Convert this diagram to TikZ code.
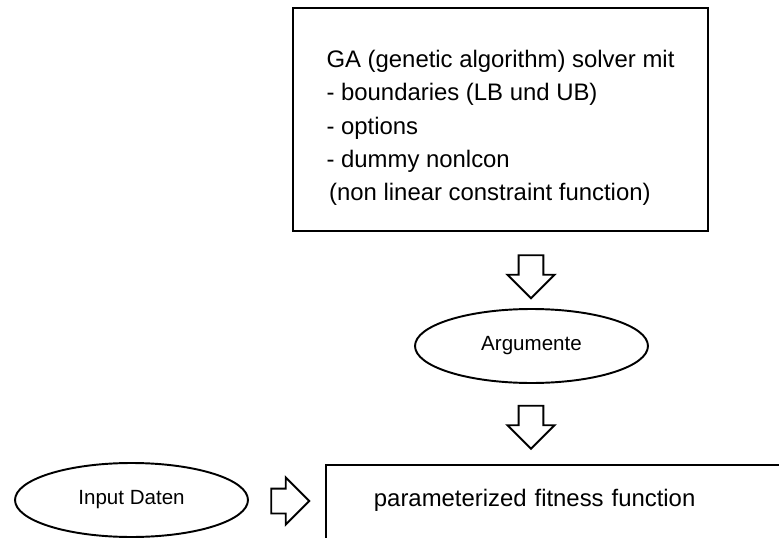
\documentclass[tikz,border=0pt]{standalone}
\usepackage{fontspec}
\setmainfont{Liberation Sans}
\usetikzlibrary{positioning,shapes.geometric,shapes.arrows}

\begin{document}
\begin{tikzpicture}[
      x=0.02cm, y=-0.02cm,
      line width=1.1pt,
      gabox/.style={draw,rectangle,minimum width=8.3cm,minimum height=4.46cm,
                    font=\fontsize{13.6}{19}\selectfont},
      datum/.style={draw,ellipse,minimum width=4.66cm,minimum height=1.48cm,
                    inner sep=0pt,font=\fontsize{11.7}{14}\selectfont},
      fitbox/.style={draw,rectangle,anchor=north west,align=left,
                     text width=9cm,inner xsep=0.96cm,inner ysep=0pt,
                     text height=0.84cm,text depth=2cm,
                     font=\fontsize{13.6}{19}\selectfont},
      flow/.style={draw,single arrow,single arrow tip angle=90,
                   single arrow head extend=0.22cm,inner xsep=0pt,
                   inner ysep=0.23cm,minimum height=0.86cm},
    ]

    % ── Frame ──────────────────────────────────────────────────────────────
    \useasboundingbox (0,0) rectangle (779,538);
    \clip (0,0) rectangle (779,538);

    % ── GA solver ─────────────────────────────────────────────────────────
    \node[gabox] (solver) at (500.5,119.5) {\raisebox{-4.5pt}[\height][\depth]{%
      \begin{tabular}{@{}l@{}}
        GA (genetic algorithm) solver mit\\
        - boundaries (LB und UB)\\
        - options\\
        - dummy nonlcon\\
        \hspace*{1.5pt}(non linear constraint function)
      \end{tabular}}};

    % ── Arguments ─────────────────────────────────────────────────────────
    \node[flow,rotate=-90] (down1) at (531,270.5) {};
    \node[datum] (args) at (531.5,346) {Argumente};
    \node[flow,rotate=-90] (down2) at (531,421) {};

    % ── Fitness function ──────────────────────────────────────────────────
    \node[fitbox] (fitness) at (325,464) {parameterized fitness function};

    % ── Input data ────────────────────────────────────────────────────────
    \node[datum] (input) at (131.5,500) {Input Daten};
    \node[flow,minimum height=0.76cm] (right1) at (284,501) {};

\end{tikzpicture}
\end{document}
